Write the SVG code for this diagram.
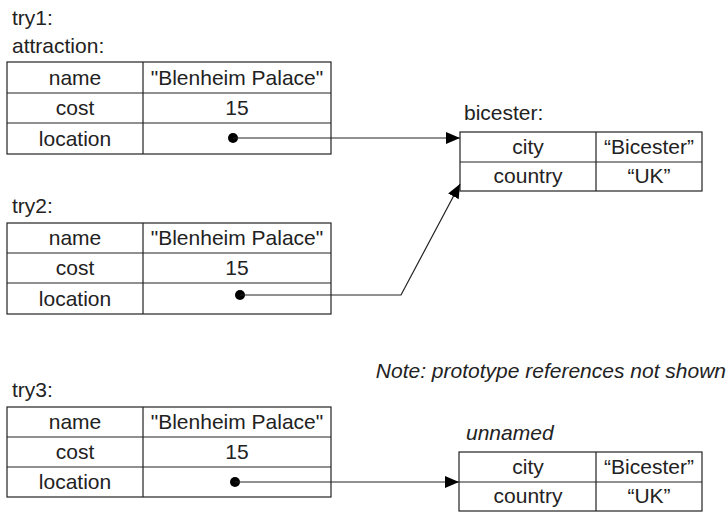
<svg xmlns="http://www.w3.org/2000/svg" width="728" height="512" viewBox="0 0 728 512">
<defs>
<style>
text{font-family:"Liberation Sans",Arial,sans-serif;font-size:21px;fill:#222}
.c{text-anchor:middle}
.i{font-style:italic}
.t{fill:#fff;stroke:#222;stroke-width:1.2}
.l{stroke:#222;stroke-width:1.2;fill:none}
.w{stroke:#222;stroke-width:1.2;fill:none}
</style>
<marker id="ah" viewBox="0 0 14 12" refX="14" refY="6" markerWidth="14" markerHeight="12" markerUnits="userSpaceOnUse" orient="auto">
<path d="M0,0 L14,6 L0,12 Z" fill="#000"/>
</marker>
</defs>
<rect width="728" height="512" fill="#fff"/>

<g id="try1">
<text x="12" y="25">try1:</text>
<text x="12" y="53">attraction:</text>
<rect class="t" x="7" y="62" width="324" height="92"/>
<path class="l" d="M143,62V154M7,93H331M7,123H331"/>
<text class="c" x="75" y="85">name</text>
<text class="c" x="237" y="85">"Blenheim Palace"</text>
<text class="c" x="75" y="115">cost</text>
<text class="c" x="237" y="115">15</text>
<text class="c" x="75" y="146">location</text>
</g>

<g id="bicester">
<text x="464" y="120">bicester:</text>
<rect class="t" x="460" y="132" width="242" height="59"/>
<path class="l" d="M596,132V191M460,162H702"/>
<text class="c" x="528" y="154">city</text>
<text class="c" x="649" y="154">“Bicester”</text>
<text class="c" x="528" y="183">country</text>
<text class="c" x="649" y="183">“UK”</text>
</g>

<g id="try2">
<text x="12" y="213">try2:</text>
<rect class="t" x="7" y="223" width="324" height="91"/>
<path class="l" d="M143,223V314M7,253H331M7,283H331"/>
<text class="c" x="75" y="245">name</text>
<text class="c" x="237" y="245">"Blenheim Palace"</text>
<text class="c" x="75" y="275">cost</text>
<text class="c" x="237" y="275">15</text>
<text class="c" x="75" y="306">location</text>
</g>

<text class="i" x="726" y="378" text-anchor="end">Note: prototype references not shown</text>

<g id="try3">
<text x="12" y="397">try3:</text>
<rect class="t" x="7" y="407" width="324" height="90"/>
<path class="l" d="M143,407V497M7,437H331M7,467H331"/>
<text class="c" x="75" y="429">name</text>
<text class="c" x="237" y="429">"Blenheim Palace"</text>
<text class="c" x="75" y="459">cost</text>
<text class="c" x="237" y="459">15</text>
<text class="c" x="75" y="489">location</text>
</g>

<g id="unnamed">
<text class="i" x="466" y="440">unnamed</text>
<rect class="t" x="459" y="452" width="243" height="59"/>
<path class="l" d="M596,452V511M459,482H702"/>
<text class="c" x="528" y="474">city</text>
<text class="c" x="649" y="474">“Bicester”</text>
<text class="c" x="528" y="503">country</text>
<text class="c" x="649" y="503">“UK”</text>
</g>

<g id="connectors">
<circle cx="233" cy="138" r="5" fill="#000"/>
<path class="w" d="M233,138H460" marker-end="url(#ah)"/>
<circle cx="240" cy="295" r="5" fill="#000"/>
<path class="w" d="M240,295H401L460,184" marker-end="url(#ah)"/>
<circle cx="235" cy="482" r="5" fill="#000"/>
<path class="w" d="M235,482H459" marker-end="url(#ah)"/>
</g>
</svg>
